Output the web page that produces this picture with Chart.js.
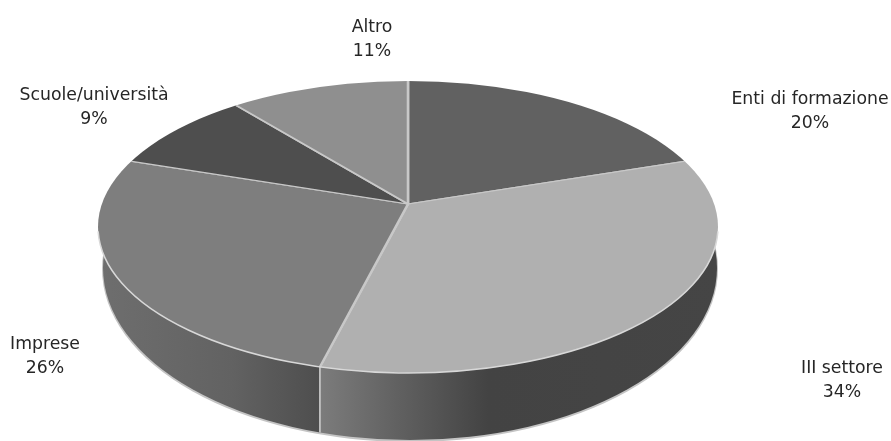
<!DOCTYPE html>
<html>
<head>
<meta charset="utf-8">
<title>Pie</title>
<script src="https://cdn.jsdelivr.net/npm/chart.js@4"></script>
<style>
html, body { margin: 0; padding: 0; background: #fff; }
canvas { display: block; }
</style>
</head>
<body>
<canvas id="pieChart" width="891" height="441"></canvas>
<script>
const categories = ['Enti di formazione', 'III settore', 'Imprese', 'Scuole/università', 'Altro'];
const shares = [20, 34, 26, 9, 11];
const sliceColors = ['#616161', '#b0b0b0', '#7e7e7e', '#4e4e4e', '#8f8f8f'];

// label anchors (centre x, first line baseline y)
const labelSpots = [[810, 104], [842, 373], [45, 349], [94, 100], [372, 32]];

// the flattened disc
const apex = { x: 408, y: 204 };
const flatten = 0.475;
const face = { cx: 408, cy: 227, rx: 310, ry: 146 };
const wall = { cx: 410, cy: 268, rx: 307, ry: 172 };

function rimX(angle) {
    // where the ray from the apex meets the top ellipse
    const dx = Math.cos(angle), dy = flatten * Math.sin(angle);
    const ox = apex.x - face.cx, oy = apex.y - face.cy;
    const a = dx * dx / (face.rx * face.rx) + dy * dy / (face.ry * face.ry);
    const b = 2 * (ox * dx / (face.rx * face.rx) + oy * dy / (face.ry * face.ry));
    const c = ox * ox / (face.rx * face.rx) + oy * oy / (face.ry * face.ry) - 1;
    const t = (-b + Math.sqrt(b * b - 4 * a * c)) / (2 * a);
    return apex.x + dx * t;
}

function lowerY(e, x) {
    const u = (x - e.cx) / e.rx;
    return e.cy + e.ry * Math.sqrt(1 - u * u);
}

function wallGradient(ctx, x0, x1, stops) {
    const g = ctx.createLinearGradient(x0, 0, x1, 0);
    stops.forEach(s => g.addColorStop(s[0], s[1]));
    return g;
}

const disc3d = {
    id: 'disc3d',
    beforeDatasetsDraw(chart) {
        const ctx = chart.ctx;
        const arc = chart.getDatasetMeta(0).data[1];
        const split = rimX(arc.endAngle);

        // soft line under the wall
        ctx.save();
        ctx.beginPath();
        ctx.ellipse(wall.cx, wall.cy + 1, wall.rx + 1, wall.ry + 1, 0, 0, Math.PI * 2);
        ctx.fillStyle = '#c4c4c4';
        ctx.fill();
        ctx.restore();

        // wall, two pieces either side of the split
        ctx.save();
        ctx.beginPath();
        ctx.rect(0, 0, split, 441);
        ctx.clip();
        ctx.beginPath();
        ctx.ellipse(wall.cx, wall.cy, wall.rx, wall.ry, 0, 0, Math.PI * 2);
        ctx.fillStyle = wallGradient(ctx, 100, split, [[0, '#6e6e6e'], [0.6, '#626262'], [1, '#4e4e4e']]);
        ctx.fill();
        ctx.restore();

        ctx.save();
        ctx.beginPath();
        ctx.rect(split, 0, 891 - split, 441);
        ctx.clip();
        ctx.beginPath();
        ctx.ellipse(wall.cx, wall.cy, wall.rx, wall.ry, 0, 0, Math.PI * 2);
        ctx.fillStyle = wallGradient(ctx, split, 720, [[0, '#7c7c7c'], [0.2, '#606060'], [0.42, '#434343'], [1, '#454545']]);
        ctx.fill();
        ctx.restore();

        ctx.save();
        ctx.strokeStyle = '#d4d4d4';
        ctx.lineWidth = 1.5;
        ctx.beginPath();
        ctx.moveTo(split, lowerY(face, split));
        ctx.lineTo(split, lowerY(wall, split));
        ctx.stroke();
        ctx.restore();

        // slices: the library's arcs, squashed and cut to the top ellipse
        const first = chart.getDatasetMeta(0).data[0];
        const scale = 375 / first.outerRadius;
        ctx.save();
        ctx.beginPath();
        ctx.ellipse(face.cx, face.cy, face.rx, face.ry, 0, 0, Math.PI * 2);
        ctx.clip();
        ctx.translate(apex.x, apex.y);
        ctx.scale(scale, scale * flatten);
        ctx.translate(-first.x, -first.y);
    },
    afterDatasetsDraw(chart) {
        const ctx = chart.ctx;
        ctx.restore();

        // light rim along the front of the top face
        ctx.save();
        ctx.strokeStyle = '#d8d8d8';
        ctx.lineWidth = 1.5;
        ctx.beginPath();
        ctx.ellipse(face.cx, face.cy, face.rx, face.ry, 0, 0.03, Math.PI - 0.03);
        ctx.stroke();
        ctx.restore();

        ctx.save();
        ctx.font = '17.3px "DejaVu Sans"';
        ctx.fillStyle = '#262626';
        ctx.textAlign = 'center';
        categories.forEach((name, i) => {
            ctx.fillText(name, labelSpots[i][0], labelSpots[i][1]);
            ctx.fillText(shares[i] + '%', labelSpots[i][0], labelSpots[i][1] + 24);
        });
        ctx.restore();
    }
};

new Chart(document.getElementById('pieChart').getContext('2d'), {
    type: 'pie',
    data: {
        labels: categories,
        datasets: [{
            data: shares,
            backgroundColor: sliceColors,
            borderColor: '#c8c8c8',
            borderWidth: 1.5
        }]
    },
    options: {
        responsive: false,
        animation: false,
        layout: { padding: 0 },
        plugins: {
            legend: { display: false },
            tooltip: { enabled: false }
        }
    },
    plugins: [disc3d]
});
</script>
</body>
</html>
